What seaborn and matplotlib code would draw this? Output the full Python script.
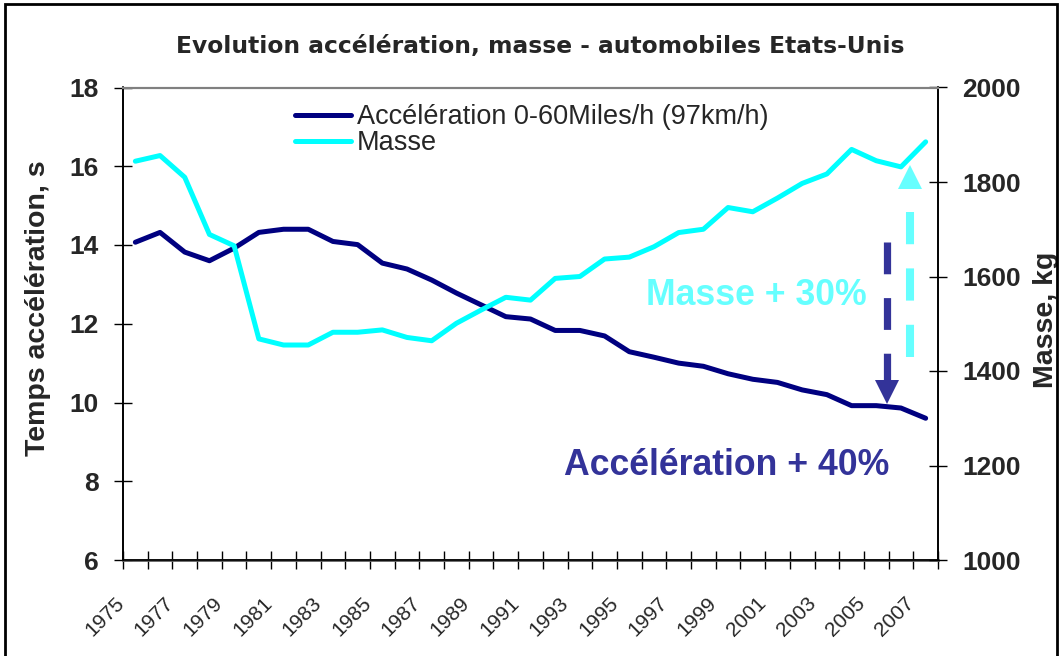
import numpy as np
import pandas as pd
import seaborn as sns
import matplotlib
matplotlib.use("Agg")
import matplotlib.pyplot as plt
import matplotlib.transforms as mtransforms
from matplotlib.patches import Rectangle

#----------------------------------------------------------------------------
# data

years = list(range(1975, 2008))
acceleration = [14.07, 14.32, 13.82, 13.6, 13.92, 14.32, 14.4, 14.4, 14.09, 14.01,
                13.54, 13.39, 13.11, 12.78, 12.48, 12.18, 12.12, 11.83, 11.83, 11.69,
                11.29, 11.15, 11.0, 10.92, 10.73, 10.59, 10.51, 10.32, 10.2, 9.92,
                9.92, 9.86, 9.6]
masse = [1844, 1856, 1810, 1689, 1665, 1468, 1455, 1455, 1482, 1482,
         1487, 1471, 1464, 1501, 1529, 1556, 1550, 1596, 1600, 1637,
         1641, 1663, 1693, 1700, 1746, 1737, 1766, 1797, 1817, 1869,
         1845, 1832, 1885]
year_labels = [str(y) for y in range(1975, 2008, 2)]

title = "Evolution accélération, masse - automobiles Etats-Unis"
label_acc = "Accélération 0-60Miles/h (97km/h)"
label_masse = "Masse"

#----------------------------------------------------------------------------

df = pd.DataFrame({"year": years, "acc": acceleration, "masse": masse})

sns.set_style("white")
plt.rcParams["font.family"] = ["Liberation Sans", "DejaVu Sans"]

W, H = 1059, 656
fig = plt.figure(figsize=(W / 100, H / 100), dpi=100)
x0, x1, y0, y1 = 123, 938, 87.5, 560
ax = fig.add_axes([x0 / W, 1 - y1 / H, (x1 - x0) / W, (y1 - y0) / H])
ax2 = ax.twinx()

navy = "#000080"
cyan = "#00FFFF"
dark_arrow = "#333399"
light_arrow = "#66FFFF"

sns.lineplot(data=df, x="year", y="acc", ax=ax, color=navy, lw=3.6, legend=False)
sns.lineplot(data=df, x="year", y="masse", ax=ax2, color=cyan, lw=3.6, legend=False)

ax.set_xlim(1974.5, 2007.5)
ax.set_ylim(6, 18)
ax2.set_ylim(1000, 2000)
ax.set_yticks(range(6, 19, 2))
ax2.set_yticks(range(1000, 2001, 200))

# category axis: ticks between years, labels every other year
ax.set_xticks(np.arange(1974.5, 2008, 1), minor=True)
ax.set_xticks(range(1975, 2008, 2))
ax.tick_params(axis="x", which="major", bottom=True, length=0, pad=24)
ax.tick_params(axis="x", which="minor", bottom=True, direction="inout", length=13,
               width=1, color="black")
ax.tick_params(axis="y", left=True, direction="inout", length=13, width=1, color="black",
               labelsize=19, pad=11)
ax2.tick_params(axis="y", right=True, direction="inout", length=13, width=1, color="black",
                labelsize=19, pad=11)
ax.set_xticklabels(year_labels, rotation=45, ha="right", va="top",
                   rotation_mode="anchor", fontsize=15)
shift = mtransforms.ScaledTranslation(-0.21, 0, fig.dpi_scale_trans)
for lab in ax.get_xticklabels():
    lab.set_transform(lab.get_transform() + shift)
for lab in ax.get_yticklabels() + ax2.get_yticklabels():
    lab.set_fontweight("bold")

ax.set_xlabel("")
ax.set_ylabel("Temps accélération, s", fontsize=20.5, fontweight="bold")
ax2.set_ylabel("Masse, kg", fontsize=20.5, fontweight="bold")
ax.yaxis.label.set_va("center")
ax2.yaxis.label.set_va("center")
ax.yaxis.set_label_coords((38 - x0) / (x1 - x0), (y1 - 308) / (y1 - y0))
ax2.yaxis.set_label_coords((1046 - x0) / (x1 - x0), (y1 - 320) / (y1 - y0))

for a in (ax, ax2):
    for side in ("left", "right", "bottom"):
        a.spines[side].set_color("black")
        a.spines[side].set_linewidth(1.2)
    a.spines["top"].set_color("#808080")
    a.spines["top"].set_linewidth(1.5)
ax.spines["bottom"].set_color("#606060")
ax.spines["bottom"].set_linewidth(2)

fig.text(540 / W, 1 - 53 / H, title, fontsize=16.8, fontweight="bold",
         family="DejaVu Sans", ha="center", va="baseline")

# legend
handles = [ax.get_lines()[0], ax2.get_lines()[0]]
leg = ax2.legend(handles, [label_acc, label_masse], loc="upper left",
                 bbox_to_anchor=(295 / W, 1 - 104 / H), bbox_transform=fig.transFigure,
                 frameon=False, fontsize=19.5, handlelength=2.06, handletextpad=0.23,
                 labelspacing=0.0, borderpad=0, borderaxespad=0)

# arrows (drawn in kg units on the right axis)
xd = 2005.42
ax2.plot([xd, xd], [1673.6, 1372], color=dark_arrow, lw=5.2,
         linestyle=(0, (4.4, 3.3)), solid_capstyle="butt", zorder=5)
ax2.plot([xd], [1354.5], marker="v", ms=17, color=dark_arrow, mew=0, zorder=5)

xc = 2006.36
ax2.plot([xc, xc], [1430, 1790], color=light_arrow, lw=5.8,
         linestyle=(0, (4.0, 3.0)), solid_capstyle="butt", zorder=5)
ax2.plot([xc], [1810.6], marker="^", ms=17, color=light_arrow, mew=0, zorder=5)

ax2.text(2004.61, 1539.7, "Masse + 30%", color=light_arrow, fontsize=25.7,
         fontweight="bold", ha="right", va="baseline", zorder=6)
ax2.text(2005.52, 1180, "Accélération + 40%", color=dark_arrow, fontsize=25.7,
         fontweight="bold", ha="right", va="baseline", zorder=6)

# outer frame of the chart
fig.patches.append(Rectangle((5 / W, -0.02), 1 - 7 / W, 1.02 - 4 / H,
                             transform=fig.transFigure, fill=False,
                             edgecolor="black", lw=2, figure=fig))

fig.savefig("out.png", dpi=100)
